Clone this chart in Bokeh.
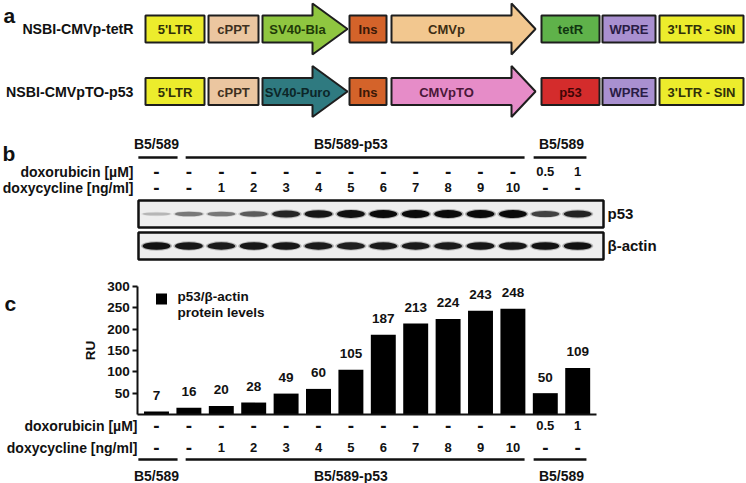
from bokeh.plotting import figure
from bokeh.models import Range1d, LinearAxis, FixedTicker
from bokeh.core.properties import value
from bokeh.embed import file_html
from bokeh.resources import INLINE

# ---------------- data ----------------
vector1_name = "NSBI-CMVp-tetR"
vector1_parts = ["5'LTR", "cPPT", "SV40-Bla", "Ins", "CMVp", "tetR", "WPRE", "3'LTR - SIN"]
vector1_fill = ["#ecec2c", "#ebc6a0", "#8fc640", "#d4632a", "#f2c78f", "#5fb24a", "#a990d0", "#ecec2c"]
vector1_text = ["#30300a", "#3e3020", "#1f3a08", "#3a1808", "#3e2e14", "#0f3510", "#2a1c45", "#30300a"]
vector2_name = "NSBI-CMVpTO-p53"
vector2_parts = ["5'LTR", "cPPT", "SV40-Puro", "Ins", "CMVpTO", "p53", "WPRE", "3'LTR - SIN"]
vector2_fill = ["#ecec2c", "#ebc6a0", "#2f7a80", "#d4632a", "#e68cc8", "#d42c2c", "#a990d0", "#ecec2c"]
vector2_text = ["#30300a", "#3e3020", "#0c2628", "#3a1808", "#4a1838", "#3e0505", "#2a1c45", "#30300a"]
part_is_arrow = [False, False, True, False, True, False, False, False]

lane_groups = ["B5/589", "B5/589-p53", "B5/589"]
group_first = [0, 1, 12]
group_last = [0, 11, 13]
doxorubicin_uM = ["-", "-", "-", "-", "-", "-", "-", "-", "-", "-", "-", "-", "0.5", "1"]
doxycycline_ngml = ["-", "-", "1", "2", "3", "4", "5", "6", "7", "8", "9", "10", "-", "-"]
ru_levels = [7, 16, 20, 28, 49, 60, 105, 187, 213, 224, 243, 248, 50, 109]
ru_ticks = [50, 100, 150, 200, 250, 300]
p53_band = [0.2, 0.45, 0.45, 0.58, 0.85, 0.92, 0.96, 1.0, 1.0, 1.0, 1.0, 1.0, 0.7, 0.86]
actin_band = [0.95, 0.92, 0.9, 0.92, 0.92, 0.9, 0.88, 0.9, 0.9, 0.9, 0.92, 0.92, 0.95, 0.95]
legend_lines = ["p53/\u03b2-actin", "protein levels"]
row_labels = ["doxorubicin [\u00b5M]", "doxycycline [ng/ml]"]
blot_labels = ["p53", "\u03b2-actin"]

# ---------------- layout ----------------
W, H = 746, 483
X0, X1 = 0, 746
YB, YT = 483, 0
LANE0_X, LANE_DX = 156.0, 32.4
RU0_Y, RU300_Y = 414.0, 286.0
FONT = value("Liberation Sans")
INK = "#111111"

lanes = list(range(len(ru_levels)))
ru_per_px = 300.0 / (RU0_Y - RU300_Y)

p = figure(width=W, height=H, output_backend="svg", toolbar_location=None,
           x_range=Range1d(X0, X1), y_range=Range1d(YB, YT),
           x_axis_location=None, y_axis_location=None, min_border=0)
p.grid.visible = False
p.outline_line_color = None
p.background_fill_color = "white"
p.extra_x_ranges = {"lane": Range1d((X0 - LANE0_X) / LANE_DX, (X1 - LANE0_X) / LANE_DX)}
p.extra_y_ranges = {"ru": Range1d((RU0_Y - YB) * ru_per_px, (RU0_Y - YT) * ru_per_px)}


def txt(x, y, t, size, align="left", color=INK, baseline="middle", **kw):
    p.text(x=x, y=y, text=t, text_font=FONT, text_font_style="bold",
           text_font_size=size, text_align=align, text_baseline=baseline,
           text_color=color, **kw)


# ---------------- panel a ----------------
part_left = [145, 208, 262, 349, 391, 541, 602, 659]
part_right = [204, 258, 347, 386, 535, 599, 655, 743]
head_len = [0, 0, 35, 0, 24, 0, 0, 0]
text_dx = [0, 0, 10, 0, -5, 0, 0, 0]
row_y = [28.5, 91.0]
BODY, HEAD = 13.5, 25.5

txt([3], [15], ["a"], "21px", baseline="alphabetic")
for cy, name, parts, fills, tcols in [(row_y[0], vector1_name, vector1_parts, vector1_fill, vector1_text),
                                      (row_y[1], vector2_name, vector2_parts, vector2_fill, vector2_text)]:
    txt([133], [cy], [name], "14.2px", align="right")
    for i, part in enumerate(parts):
        L, R = part_left[i], part_right[i]
        if part_is_arrow[i]:
            hs = R - head_len[i]
            p.patch([L, hs, hs, R, hs, hs, L],
                    [cy - BODY, cy - BODY, cy - HEAD, cy, cy + HEAD, cy + BODY, cy + BODY],
                    fill_color=fills[i], line_color="#1e1e1e", line_width=2)
            tx = (L + hs) / 2 + text_dx[i]
        else:
            p.quad(left=[L], right=[R], top=[cy - BODY], bottom=[cy + BODY],
                   fill_color=fills[i], line_color="#1e1e1e", line_width=2)
            tx = (L + R) / 2 + text_dx[i]
        txt([tx], [cy + 0.5], [part], "13px", align="center", color=tcols[i])


# ---------------- lane label block (used by b and c) ----------------
seg_pad_l = [0.56, 0.1, 0.36]
seg_pad_r = [0.65, 0.36, 0.27]


def lane_sizes(labels):
    return ["19px" if s == "-" else "13px" for s in labels]


def lane_block(y_group, y_line, y_doxo, y_doxy, label_x):
    gx = [(f + l) / 2 for f, l in zip(group_first, group_last)]
    txt(gx, [y_group] * 3, lane_groups, "14px", align="center", x_range_name="lane")
    p.segment(x0=[f - a for f, a in zip(group_first, seg_pad_l)],
              x1=[l + b for l, b in zip(group_last, seg_pad_r)],
              y0=[y_line] * 3, y1=[y_line] * 3, line_color=INK, line_width=2.5,
              x_range_name="lane")
    txt(lanes, [y_doxo] * len(lanes), doxorubicin_uM, lane_sizes(doxorubicin_uM),
        align="center", x_range_name="lane")
    txt(lanes, [y_doxy] * len(lanes), doxycycline_ngml, lane_sizes(doxycycline_ngml),
        align="center", x_range_name="lane")
    txt([label_x, label_x], [y_doxo, y_doxy], row_labels, "14px", align="right")


# ---------------- panel b ----------------
txt([2], [153], ["b"], "21px", baseline="alphabetic")
lane_block(143, 157, 171, 187, 133)

BLOT_L, BLOT_R = 138, 603
for (top, bot, bands, bh) in [(200, 227, p53_band, 213.5), (232, 259, actin_band, 245.5)]:
    p.quad(left=[BLOT_L], right=[BLOT_R], top=[top], bottom=[bot],
           fill_color="#eeeeee", line_color="#111111", line_width=2.5)
    p.ellipse(x=lanes, y=[bh] * len(lanes), width=0.96,
              height=[3 + 7 * b for b in bands], height_units="screen",
              fill_color="#202020", fill_alpha=[0.3 * b for b in bands], line_color=None,
              x_range_name="lane")
    p.ellipse(x=lanes, y=[bh] * len(lanes), width=0.86,
              height=[2 + 6 * b for b in bands], height_units="screen",
              fill_color="#0a0a0a", fill_alpha=[b for b in bands], line_color=None,
              x_range_name="lane")
txt([607, 607], [213, 245], blot_labels, "15px")

# ---------------- panel c ----------------
txt([4], [303], ["c"], "21px", baseline="alphabetic")
p.vbar(x=lanes, top=ru_levels, bottom=0, width=0.77, fill_color="black", line_color=None,
       x_range_name="lane", y_range_name="ru")
p.text(x=lanes, y=ru_levels, text=[str(v) for v in ru_levels], text_font=FONT,
       text_font_style="bold", text_font_size="13.5px", text_align="center",
       text_baseline="middle", y_offset=-16, text_color=INK,
       x_range_name="lane", y_range_name="ru")

yaxis = LinearAxis(y_range_name="ru", x_range_name="lane", fixed_location=-0.58,
                   bounds=(0, 300), ticker=FixedTicker(ticks=ru_ticks), axis_label="RU")
xaxis = LinearAxis(x_range_name="lane", y_range_name="ru", fixed_location=0,
                   bounds=(-0.58, 13.58), ticker=FixedTicker(ticks=[]))
for ax in (yaxis, xaxis):
    ax.axis_line_width = 2
    ax.axis_line_color = INK
    ax.major_tick_line_width = 2
    ax.major_tick_line_color = INK
    ax.major_tick_out = 5
    ax.major_tick_in = 0
    ax.minor_tick_line_color = None
    ax.major_label_text_font = "Liberation Sans"
    ax.major_label_text_font_style = "bold"
    ax.major_label_text_font_size = "13.5px"
    ax.major_label_text_color = INK
    ax.axis_label_text_font = "Liberation Sans"
    ax.axis_label_text_font_style = "bold"
    ax.axis_label_text_font_size = "13.5px"
    ax.axis_label_text_color = INK
yaxis.major_label_standoff = 3
yaxis.axis_label_standoff = 6
p.add_layout(yaxis, "left")
p.add_layout(xaxis, "below")

# legend (manual)
p.scatter(x=[161], y=[298.5], marker="square", size=11, fill_color="black", line_color=None)
txt([177, 177], [296, 312], legend_lines, "13.5px")

lane_block(475, 459, 425, 447, 137)

open("out.html", "w").write(file_html(p, INLINE))
